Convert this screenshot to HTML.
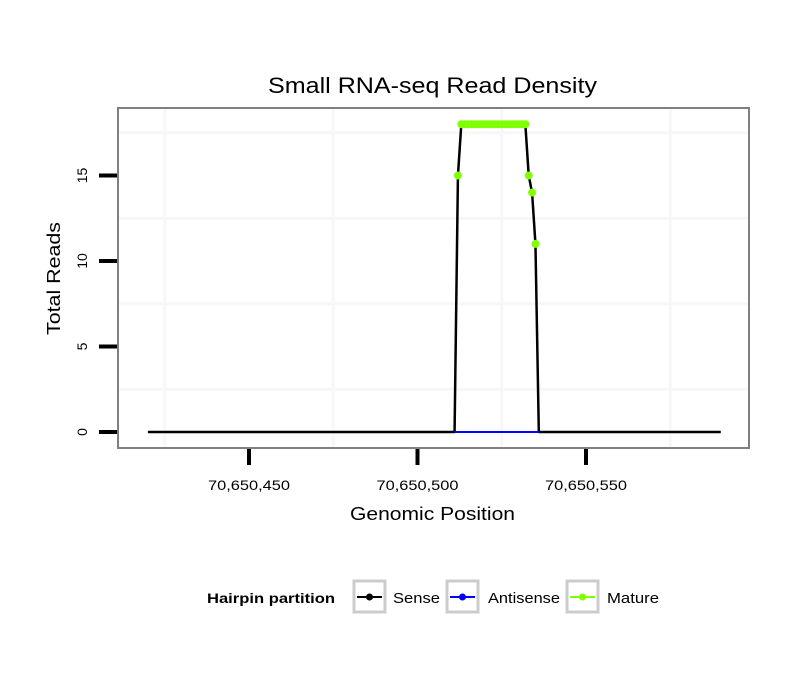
<!DOCTYPE html>
<html><head><meta charset="utf-8"><style>
body{margin:0;background:#fff;font-family:"Liberation Sans",sans-serif}
</style></head><body>
<svg id="chart" width="810" height="690" xmlns="http://www.w3.org/2000/svg" font-family="Liberation Sans, sans-serif">
<rect width="810" height="690" fill="#fff"/>
<text x="268" y="93" font-size="22" textLength="329" lengthAdjust="spacingAndGlyphs">Small RNA-seq Read Density</text>
<g id="grid"></g>
<g id="series"></g>
<rect x="118" y="108" width="631" height="340" fill="none" stroke="#808080" stroke-width="2"/>
<g id="axes"></g>
<text x="350" y="520" font-size="18" textLength="165" lengthAdjust="spacingAndGlyphs">Genomic Position</text>
<text transform="translate(60,335) rotate(-90)" font-size="18" textLength="113" lengthAdjust="spacingAndGlyphs">Total Reads</text>
<g>
<text x="207" y="603" font-size="14" font-weight="bold" textLength="128" lengthAdjust="spacingAndGlyphs">Hairpin partition</text>
<g>
<rect x="354" y="581" width="31" height="31" fill="#fff" stroke="#ccc" stroke-width="3"/>
<line x1="357" x2="382" y1="597" y2="597" stroke="#000" stroke-width="2"/><circle cx="369.5" cy="597" r="3.5" fill="#000"/>
<text x="393" y="603" font-size="15" textLength="47" lengthAdjust="spacingAndGlyphs">Sense</text></g>
<g>
<rect x="447" y="581" width="31" height="31" fill="#fff" stroke="#ccc" stroke-width="3"/>
<line x1="450" x2="475" y1="597" y2="597" stroke="#00f" stroke-width="2"/><circle cx="462.5" cy="597" r="3.5" fill="#00f"/>
<text x="488" y="603" font-size="15" textLength="72" lengthAdjust="spacingAndGlyphs">Antisense</text></g>
<g>
<rect x="567" y="581" width="31" height="31" fill="#fff" stroke="#ccc" stroke-width="3"/>
<line x1="570" x2="595" y1="597" y2="597" stroke="#7fff00" stroke-width="2"/><circle cx="582.5" cy="597" r="3.5" fill="#7fff00"/>
<text x="607" y="603" font-size="15" textLength="52" lengthAdjust="spacingAndGlyphs">Mature</text></g>
</g>
</svg>
<script>
const senseX = [70650420, 70650511, 70650512, 70650513, 70650532, 70650533, 70650534, 70650535, 70650536, 70650590];
const senseY = [0, 0, 15, 18, 18, 15, 14, 11, 0, 0];
const antisenseX = [70650511, 70650536];
const antisenseY = [0, 0];
const matureX = [70650512,70650513,70650514,70650515,70650516,70650517,70650518,70650519,70650520,70650521,70650522,70650523,70650524,70650525,70650526,70650527,70650528,70650529,70650530,70650531,70650532,70650533,70650534,70650535];
const matureY = [15,18,18,18,18,18,18,18,18,18,18,18,18,18,18,18,18,18,18,18,18,15,14,11];
const xTicks = [70650450, 70650500, 70650550];
const xTickLabels = ["70,650,450", "70,650,500", "70,650,550"];
const yTicks = [0, 5, 10, 15];
const xMinor = [70650425, 70650475, 70650525, 70650575];
const yMinor = [2.5, 7.5, 12.5, 17.5];

const NS = "http://www.w3.org/2000/svg";
function sx(v){ return 249 + (v - 70650450) * 3.37; }
function sy(v){ return 432 - v * 17.1; }
function mk(tag, attrs, parent){ const e=document.createElementNS(NS,tag); for(const k in attrs) e.setAttribute(k,attrs[k]); parent.appendChild(e); return e; }
const grid=document.getElementById('grid'), series=document.getElementById('series'), axes=document.getElementById('axes');
xMinor.forEach(v=>{ const l=mk('line',{x1:sx(v),x2:sx(v),y1:109,y2:447,stroke:'#f7f7f7','stroke-width':3},grid);

 });
yMinor.forEach(v=>{ const l=mk('line',{x1:119,x2:748,y1:sy(v),y2:sy(v),stroke:'#f7f7f7','stroke-width':3},grid);

 });
function path(xs, ys, color, w, name){
  const d = xs.map((x,i)=>(i?'L':'M')+sx(x)+','+sy(ys[i])).join(' ');
  const p = mk('path',{d:d,fill:'none',stroke:color,'stroke-width':w,'stroke-linejoin':'round'},series);
  
  
}
path(senseX, senseY, '#000', 2.5, 'sense-line');
path(antisenseX, antisenseY, '#00f', 2, 'antisense-line');
path(matureX.filter((x,i)=>matureY[i]===18), matureY.filter(y=>y===18), '#7fff00', 7, 'mature-plateau');
matureX.forEach((x,i)=>{ const c=mk('circle',{cx:sx(x),cy:sy(matureY[i]),r:4,fill:'#7fff00'},series);

 });
xTicks.forEach((v,i)=>{
  const t=mk('line',{x1:sx(v),x2:sx(v),y1:449,y2:465,stroke:'#000','stroke-width':4},axes);
  
  
  const tx=mk('text',{x:sx(v)-41,y:490,'font-size':14,textLength:82,lengthAdjust:'spacingAndGlyphs'},axes); tx.textContent=xTickLabels[i];
  
  
});
yTicks.forEach(v=>{
  const t=mk('line',{x1:99,x2:117,y1:sy(v),y2:sy(v),stroke:'#000','stroke-width':4},axes);
  
  
  const tx=mk('text',{x:0,y:0,'font-size':14,'text-anchor':'middle',transform:'translate(87,'+sy(v)+') rotate(-90)'},axes); tx.textContent=String(v);
  
  
});
</script>
</body></html>
